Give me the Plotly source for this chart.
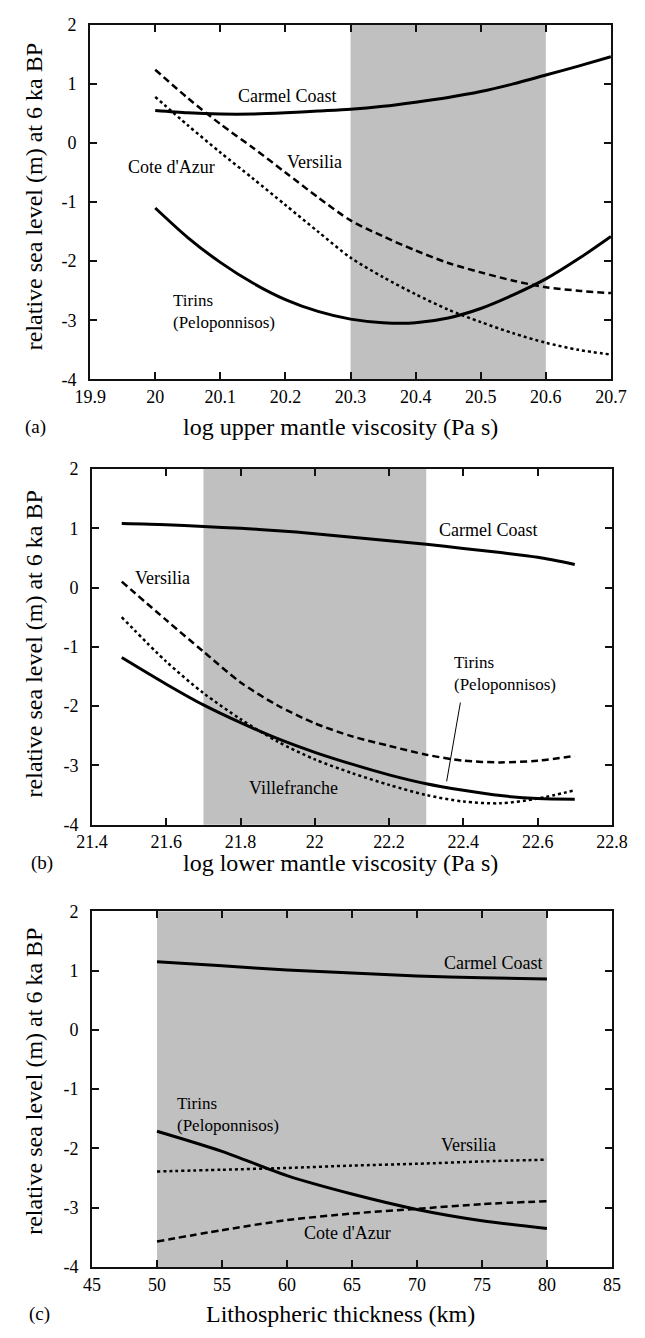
import plotly.graph_objects as go

# ---------------- data ----------------
# Panel (a): log upper mantle viscosity
xa = [20.0, 20.05, 20.1, 20.15, 20.2, 20.25, 20.3, 20.35, 20.4, 20.45, 20.5, 20.55, 20.6, 20.65, 20.7]
a_carmel = [0.55, 0.51, 0.49, 0.49, 0.51, 0.54, 0.57, 0.62, 0.69, 0.77, 0.87, 1.0, 1.15, 1.3, 1.46]
a_versilia = [1.24, 0.76, 0.32, -0.08, -0.5, -0.92, -1.31, -1.58, -1.82, -2.03, -2.19, -2.33, -2.44, -2.5, -2.54]
a_cote = [0.78, 0.3, -0.16, -0.6, -1.05, -1.5, -1.94, -2.27, -2.56, -2.82, -3.03, -3.22, -3.38, -3.5, -3.58]
a_tirins = [-1.1, -1.6, -2.02, -2.37, -2.65, -2.85, -2.98, -3.04, -3.04, -2.96, -2.8, -2.57, -2.3, -1.96, -1.58]

# Panel (b): log lower mantle viscosity
xb = [21.48, 21.6, 21.7, 21.8, 21.9, 22.0, 22.1, 22.2, 22.3, 22.4, 22.5, 22.6, 22.7]
b_carmel = [1.08, 1.06, 1.03, 1.0, 0.96, 0.91, 0.85, 0.79, 0.73, 0.66, 0.59, 0.51, 0.39]
b_versilia = [0.1, -0.55, -1.08, -1.6, -1.99, -2.29, -2.51, -2.67, -2.82, -2.92, -2.95, -2.92, -2.84]
b_villef = [-0.5, -1.25, -1.78, -2.22, -2.6, -2.9, -3.13, -3.33, -3.5, -3.61, -3.64, -3.56, -3.42]
b_tirins = [-1.18, -1.63, -1.98, -2.28, -2.55, -2.78, -2.98, -3.16, -3.31, -3.42, -3.51, -3.56, -3.57]

# Panel (c): lithospheric thickness
xc = [50, 55, 60, 65, 70, 75, 80]
c_carmel = [1.15, 1.08, 1.01, 0.96, 0.91, 0.88, 0.86]
c_tirins = [-1.71, -2.05, -2.46, -2.77, -3.03, -3.22, -3.35]
c_versilia = [-2.39, -2.36, -2.33, -2.29, -2.26, -2.22, -2.19]
c_cote = [-3.57, -3.38, -3.21, -3.1, -3.02, -2.94, -2.89]

# shaded ranges
shade_a = [20.3, 20.6]
shade_b = [21.7, 22.3]
shade_c = [50, 80]

# tick labels
xa_ticks = [19.9, 20.0, 20.1, 20.2, 20.3, 20.4, 20.5, 20.6, 20.7]
xa_labels = ["19.9", "20", "20.1", "20.2", "20.3", "20.4", "20.5", "20.6", "20.7"]
xb_ticks = [21.4, 21.6, 21.8, 22.0, 22.2, 22.4, 22.6, 22.8]
xb_labels = ["21.4", "21.6", "21.8", "22", "22.2", "22.4", "22.6", "22.8"]
xc_ticks = [45, 50, 55, 60, 65, 70, 75, 80, 85]
xc_labels = ["45", "50", "55", "60", "65", "70", "75", "80", "85"]
y_ticks = [-4, -3, -2, -1, 0, 1, 2]
y_labels = ["-4", "-3", "-2", "-1", "0", "1", "2"]

x_titles = ["log upper mantle viscosity (Pa s)", "log lower mantle viscosity (Pa s)", "Lithospheric thickness (km)"]
y_title = "relative sea level (m) at 6 ka BP"
panel_tags = ["(a)", "(b)", "(c)"]

# ---------------- styling ----------------
W, H = 645, 1338
FONT = "Liberation Serif, Times New Roman, serif"
SOLID = dict(color="black", width=3, dash="solid")
DASH = dict(color="black", width=2.5, dash="7px,4px")
DOT = dict(color="black", width=2.5, dash="3px,3px")


def py(p):  # pixel y (from top) -> paper
    return 1 - p / H


def px(p):
    return p / W


fig = go.Figure()

panels = [
    dict(x=xa, series=[(a_carmel, SOLID), (a_versilia, DASH), (a_cote, DOT), (a_tirins, SOLID)],
         xr=[19.9, 20.7], ticks=(xa_ticks, xa_labels), shade=shade_a,
         xd=[px(78), px(626)], yd=[py(375), py(15)]),
    dict(x=xb, series=[(b_carmel, SOLID), (b_versilia, DASH), (b_villef, DOT), (b_tirins, SOLID)],
         xr=[21.4, 22.8], ticks=(xb_ticks, xb_labels), shade=shade_b,
         xd=[px(80), px(627)], yd=[py(827), py(466)]),
    dict(x=xc, series=[(c_carmel, SOLID), (c_tirins, SOLID), (c_versilia, DOT), (c_cote, DASH)],
         xr=[45, 85], ticks=(xc_ticks, xc_labels), shade=shade_c,
         xd=[px(80), px(627)], yd=[py(1276), py(915)]),
]

axis_common = dict(showgrid=False, zeroline=False, showline=True, linecolor="#111", linewidth=2,
                   mirror="ticks", ticks="inside", ticklen=7, tickwidth=1.5, tickcolor="#111",
                   tickfont=dict(family=FONT, size=18, color="black"))

for i, p in enumerate(panels):
    n = i + 1
    xk = "x" if n == 1 else f"x{n}"
    yk = "y" if n == 1 else f"y{n}"
    for yv, ln in p["series"]:
        fig.add_trace(go.Scatter(x=p["x"], y=yv, mode="lines", line=dict(shape="spline", smoothing=0.8, **ln),
                                 xaxis=xk, yaxis=yk, showlegend=False, hoverinfo="skip"))
    fig.add_shape(type="rect", xref=xk, yref=f"{yk} domain", x0=p["shade"][0], x1=p["shade"][1],
                  y0=0, y1=1, fillcolor="#c0c0c0", line=dict(width=0), layer="below")
    fig.update_layout({
        ("xaxis" if n == 1 else f"xaxis{n}"): dict(domain=p["xd"], range=p["xr"], anchor=yk,
                                                   tickvals=p["ticks"][0], ticktext=p["ticks"][1],
                                                   ticklabelstandoff=0, **axis_common),
        ("yaxis" if n == 1 else f"yaxis{n}"): dict(domain=p["yd"], range=[-4, 2], anchor=xk,
                                                   tickvals=y_ticks, ticktext=y_labels,
                                                   ticklabelstandoff=8, **axis_common),
    })

ann = []


def t(text, x, y, xref, yref, size=18, xanchor="center", yanchor="middle", angle=0, align="center"):
    ann.append(dict(text=text, x=x, y=y, xref=xref, yref=yref, showarrow=False, xanchor=xanchor,
                    yanchor=yanchor, textangle=angle, align=align,
                    font=dict(family=FONT, size=size, color="black")))


# axis titles and panel tags
title_y = [423, 866, 1324]
ytitle_y = [190, 644, 1088]
tag_x = [21, 27, 25]
for i in range(3):
    t(x_titles[i], px(341), py(title_y[i]), "paper", "paper", size=24)
    t(y_title, px(19), py(ytitle_y[i]), "paper", "paper", size=24, angle=-90)
    t(panel_tags[i], px(tag_x[i]), py(title_y[i]), "paper", "paper", size=19)

TIR = "Tirins<br>(Peloponnisos)"

# panel (a) labels
t("Carmel Coast", 20.203, 0.79, "x", "y")
t("Versilia", 20.245, -0.33, "x", "y")
t("Cote d'Azur", 20.025, -0.41, "x", "y")
t(TIR, 20.024, -2.855, "x", "y", size=17, xanchor="left", align="left")

# panel (b) labels
t("Carmel Coast", 22.465, 0.965, "x2", "y2")
t("Versilia", 21.51, 0.16, "x2", "y2", xanchor="left")
t(TIR, 22.37, -1.455, "x2", "y2", size=17, xanchor="left", align="left")
t("Villefranche", 21.942, -3.38, "x2", "y2")
fig.add_shape(type="line", xref="x2", yref="y2", x0=22.392, y0=-1.94, x1=22.355, y1=-3.27,
              line=dict(color="black", width=1))

# panel (c) labels
t("Carmel Coast", 75.84, 1.13, "x3", "y3")
t(TIR, 51.4, -1.42, "x3", "y3", size=17, xanchor="left", align="left")
t("Versilia", 73.97, -1.95, "x3", "y3")
t("Cote d'Azur", 64.62, -3.43, "x3", "y3")

fig.update_layout(width=W, height=H, margin=dict(l=0, r=0, t=0, b=0), paper_bgcolor="white",
                  plot_bgcolor="white", showlegend=False, annotations=ann,
                  font=dict(family=FONT, color="black"))

fig.write_html("out.html")
